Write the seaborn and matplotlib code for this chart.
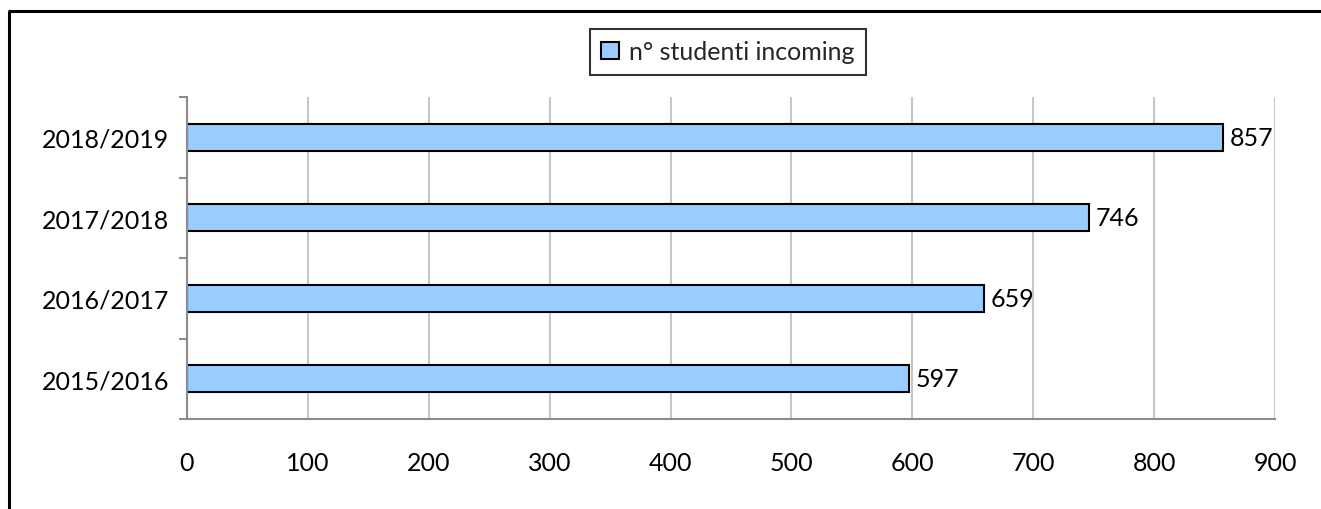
import matplotlib
matplotlib.use("Agg")
import matplotlib.pyplot as plt
import seaborn as sns
import pandas as pd
from matplotlib.lines import Line2D

# Data
categories = ["2015/2016", "2016/2017", "2017/2018", "2018/2019"]
values = [597, 659, 746, 857]
series_label = "n° studenti incoming"
x_ticks = [0, 100, 200, 300, 400, 500, 600, 700, 800, 900]

sns.set_theme(style="white")
plt.rcParams['font.family'] = ['Lato', 'DejaVu Sans']

FS = 18

df = pd.DataFrame({"anno": categories, "studenti": values})
order = categories[::-1]

fig = plt.figure(figsize=(13.21, 5.10), dpi=100)
fig.patch.set_facecolor("white")
ax = fig.add_axes([187/1321, 1 - 420/510, (1275 - 187)/1321, (420 - 98)/510])

sns.barplot(data=df, x="studenti", y="anno", order=order, orient="h",
            color="#99CCFF", saturation=1, width=0.33,
            edgecolor="black", linewidth=1.5, label=series_label, ax=ax)

ax.set_xlim(0, 900)
ax.set_ylim(len(categories) - 0.5, -0.5)
ax.set_xticks(x_ticks)
ax.set_xticklabels([str(t) for t in x_ticks])
ax.set_xlabel("")
ax.set_ylabel("")

# grid
ax.set_axisbelow(True)
ax.xaxis.grid(True, color="#C6C6C6", linewidth=1.5)
ax.yaxis.grid(False)

for s in ["top", "right"]:
    ax.spines[s].set_visible(False)
for s in ["left", "bottom"]:
    ax.spines[s].set_visible(True)
    ax.spines[s].set_color("#8C8C8C")
    ax.spines[s].set_linewidth(1.5)

# ticks
ax.tick_params(axis="x", which="major", direction="out", length=6, width=1.5,
               color="#8C8C8C", labelsize=FS, pad=17, labelcolor="black")
ax.set_yticks([i - 0.5 for i in range(len(categories) + 1)], minor=True)
ax.tick_params(axis="y", which="major", length=0, labelsize=FS, pad=13,
               labelcolor="black")
ax.tick_params(axis="y", which="minor", direction="out", length=6, width=1.5,
               color="#8C8C8C", left=True)

# value labels
for c in ax.containers:
    ax.bar_label(c, labels=[f"{int(round(v))}" for v in c.datavalues], padding=5,
                 fontsize=FS, color="black")

# legend
leg = ax.legend(loc="upper center", bbox_to_anchor=(0.551, 0.941),
                bbox_transform=fig.transFigure, fontsize=FS, frameon=True,
                fancybox=False, edgecolor="black", borderaxespad=0,
                handlelength=0.7, handleheight=0.7, handletextpad=0.4,
                borderpad=0.45)
leg.get_frame().set_linewidth(1.5)

# outer frame
fig.add_artist(Line2D([8/1321, 1.0], [1 - 12/510, 1 - 12/510],
                      transform=fig.transFigure, color="black", linewidth=2.2,
                      solid_capstyle="butt"))
fig.add_artist(Line2D([9/1321, 9/1321], [0, 1 - 12/510],
                      transform=fig.transFigure, color="black", linewidth=2.2,
                      solid_capstyle="butt"))

fig.savefig("out.png", dpi=100, facecolor="white")
